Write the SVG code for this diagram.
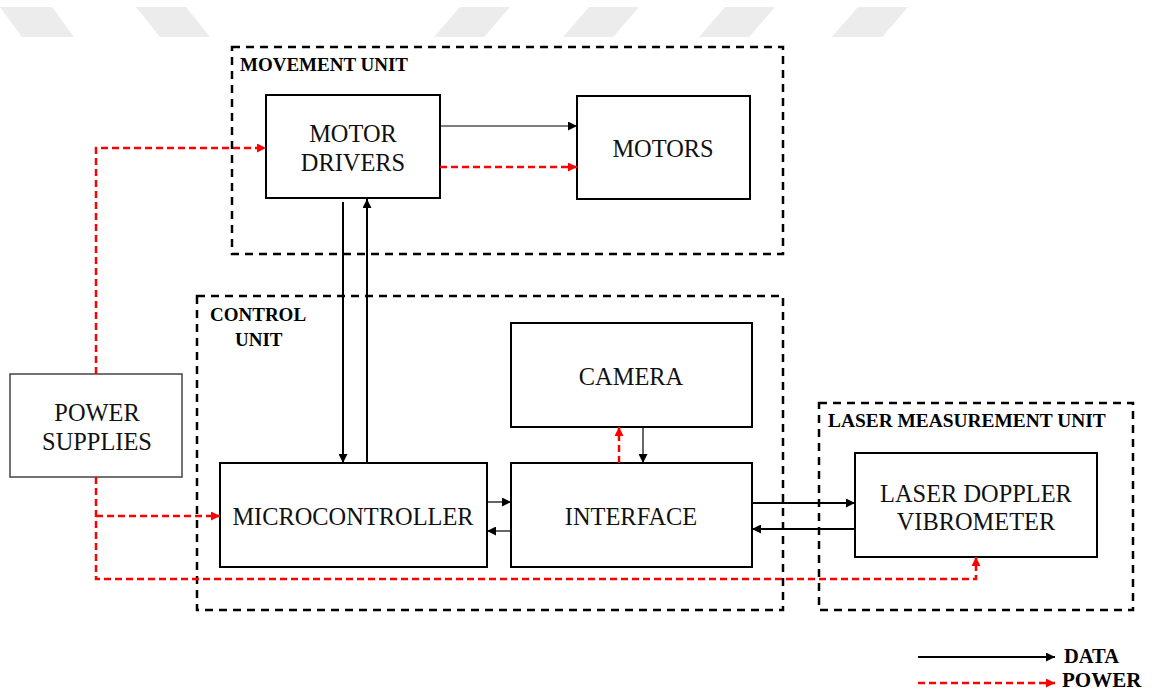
<svg xmlns="http://www.w3.org/2000/svg" width="1154" height="692" viewBox="0 0 1154 692">
<style>
.wm{fill:#ececec}
.grp{fill:none;stroke:#000;stroke-width:2.5;stroke-dasharray:8 6}
.box{fill:#fff;stroke:#000;stroke-width:2}
.pbox{fill:#fff;stroke:#444;stroke-width:1.5}
.lbl{font-family:"Liberation Serif","Times New Roman",serif;font-weight:bold;font-size:19px;fill:#000}
.txt{font-family:"Liberation Serif","Times New Roman",serif;font-size:24.4px;fill:#111;text-anchor:middle}
.d1{fill:none;stroke:#000;stroke-width:1.2}
.d2{fill:none;stroke:#000;stroke-width:2}
.pw{fill:none;stroke:#f00;stroke-width:2.5;stroke-dasharray:7 4}
</style>
<defs>
<marker id="ab" viewBox="0 0 10 10" refX="10" refY="5" markerUnits="userSpaceOnUse" markerWidth="10" markerHeight="9" orient="auto"><path d="M0,0L10,5L0,10z" fill="#000"/></marker>
<marker id="ar" viewBox="0 0 10 10" refX="10" refY="5" markerUnits="userSpaceOnUse" markerWidth="10" markerHeight="9" orient="auto"><path d="M0,0L10,5L0,10z" fill="#f00"/></marker>
</defs>
<rect width="1154" height="692" fill="#fff"/>
<g id="watermark">
<polygon class="wm" points="0,7 52,7 74,37 22,37"/>
<polygon class="wm" points="136,7 186,7 210,37 160,37"/>
<polygon class="wm" points="460,7 510,7 484,37 434,37"/>
<polygon class="wm" points="589,7 639,7 613,37 563,37"/>
<polygon class="wm" points="725,7 775,7 749,37 699,37"/>
<polygon class="wm" points="858,7 908,7 882,37 832,37"/>
</g>
<g id="movement-unit">
<rect class="grp" x="232" y="47" width="551" height="207"/>
<text class="lbl" x="240" y="71">MOVEMENT UNIT</text>
</g>
<g id="control-unit">
<rect class="grp" x="197" y="296" width="586" height="314"/>
<text class="lbl" x="210" y="321">CONTROL</text>
<text class="lbl" x="235" y="346">UNIT</text>
</g>
<g id="laser-unit">
<rect class="grp" x="819" y="403" width="314" height="207"/>
<text class="lbl" x="828" y="427" style="font-size:19.4px">LASER MEASUREMENT UNIT</text>
</g>
<g id="motor-drivers">
<rect class="box" x="266" y="95" width="174" height="103"/>
<text class="txt" x="353" y="142">MOTOR</text>
<text class="txt" x="353" y="171">DRIVERS</text>
</g>
<g id="motors">
<rect class="box" x="577" y="96" width="173" height="103"/>
<text class="txt" x="663" y="157">MOTORS</text>
</g>
<g id="camera">
<rect class="box" x="511" y="323" width="241" height="104"/>
<text class="txt" x="631" y="385">CAMERA</text>
</g>
<g id="microcontroller">
<rect class="box" x="220" y="463" width="267" height="104"/>
<text class="txt" x="353" y="525">MICROCONTROLLER</text>
</g>
<g id="interface">
<rect class="box" x="511" y="463" width="241" height="104"/>
<text class="txt" x="631" y="525">INTERFACE</text>
</g>
<g id="power-supplies">
<rect class="pbox" x="10" y="374" width="172" height="103"/>
<text class="txt" x="97" y="421">POWER</text>
<text class="txt" x="97" y="450">SUPPLIES</text>
</g>
<g id="ldv">
<rect class="box" x="855" y="453" width="242" height="104"/>
<text class="txt" x="976" y="502">LASER DOPPLER</text>
<text class="txt" x="976" y="530">VIBROMETER</text>
</g>
<g id="connectors">
<line class="d1" x1="440" y1="126" x2="577" y2="126" marker-end="url(#ab)"/>
<line class="pw" x1="440" y1="167" x2="577" y2="167" marker-end="url(#ar)"/>
<line class="d2" x1="343" y1="202" x2="343" y2="463" marker-end="url(#ab)"/>
<line class="d2" x1="367" y1="463" x2="367" y2="199" marker-end="url(#ab)"/>
<line class="d1" x1="487" y1="502" x2="511" y2="502" marker-end="url(#ab)"/>
<line class="d1" x1="511" y1="531" x2="487" y2="531" marker-end="url(#ab)"/>
<line class="pw" x1="619" y1="463" x2="619" y2="427" marker-end="url(#ar)"/>
<line class="d1" x1="643" y1="427" x2="643" y2="463" marker-end="url(#ab)"/>
<line class="d2" x1="752" y1="503" x2="855" y2="503" marker-end="url(#ab)"/>
<line class="d2" x1="855" y1="529" x2="752" y2="529" marker-end="url(#ab)"/>
<polyline class="pw" points="96,374 96,148 266,148" marker-end="url(#ar)"/>
<polyline class="pw" points="96,477 96,579 976,579 976,557" marker-end="url(#ar)"/>
<line class="pw" x1="96" y1="516" x2="220" y2="516" marker-end="url(#ar)"/>
</g>
<g id="legend">
<line class="d2" x1="918" y1="657" x2="1055" y2="657" marker-end="url(#ab)"/>
<text class="lbl" x="1064" y="663" style="font-size:20.5px">DATA</text>
<line class="pw" x1="918" y1="683" x2="1055" y2="683" marker-end="url(#ar)"/>
<text class="lbl" x="1062" y="687" style="font-size:21px">POWER</text>
</g>
</svg>
